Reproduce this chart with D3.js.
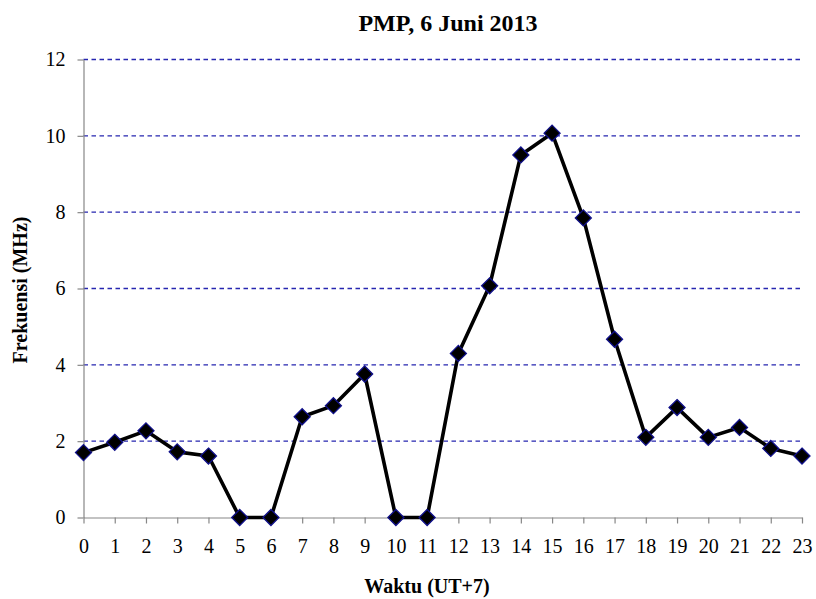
<!DOCTYPE html>
<html>
<head>
<meta charset="utf-8">
<script src="https://cdn.jsdelivr.net/npm/d3@7"></script>
<style>
  body { margin: 0; background: #fff; }
  text { font-family: "Liberation Serif", "Times New Roman", serif; fill: #000; }
</style>
</head>
<body>
<div id="chart"></div>
<script>
const hours = d3.range(0, 24);
const freq = [1.70, 1.97, 2.27, 1.72, 1.61, 0, 0, 2.64, 2.93, 3.76, 0, 0,
              4.30, 6.07, 9.50, 10.07, 7.85, 4.67, 2.10, 2.88, 2.10, 2.36, 1.81, 1.61];
const yTicks = [0, 2, 4, 6, 8, 10, 12];

const width = 816, height = 599;
const margin = { top: 59.5, right: 14, bottom: 81.5, left: 83.5 };
const serif = "'Liberation Serif', 'Times New Roman', serif";

const svg = d3.select("#chart")
    .append("svg")
        .attr("width", width)
        .attr("height", height);

const x = d3.scaleLinear().domain([0, 23]).range([margin.left, width - margin.right]);
const y = d3.scaleLinear().domain([0, 12]).range([height - margin.bottom, margin.top]);

// dashed gridlines
svg.append("g")
    .selectAll("line")
    .data(yTicks.filter((d) => d > 0))
    .enter().append("line")
        .attr("x1", x(0)).attr("x2", x(23))
        .attr("y1", (d) => y(d)).attr("y2", (d) => y(d))
        .attr("stroke", "#2626b0")
        .attr("stroke-width", 1.3)
        .attr("stroke-dasharray", "4.5,3.5");

const xAxis = svg.append("g")
    .attr("transform", `translate(0,${y(0)})`)
    .call(d3.axisBottom(x).tickValues(hours).tickFormat(d3.format("d")).tickSize(6).tickSizeOuter(0).tickPadding(15));

const yAxis = svg.append("g")
    .attr("transform", `translate(${x(0)},0)`)
    .call(d3.axisLeft(y).tickValues(yTicks).tickSize(6).tickSizeOuter(0).tickPadding(12));

[xAxis, yAxis].forEach((g) => {
    g.attr("font-family", serif);
    g.selectAll("path, line").attr("stroke", "#878787").attr("stroke-width", 1.2);
    g.selectAll("text")
        .attr("font-family", serif)
        .attr("font-size", 20)
        .attr("fill", "#000");
});

// series line
const line = d3.line()
    .x((d, i) => x(hours[i]))
    .y((d) => y(d));

svg.append("path")
    .datum(freq)
    .attr("fill", "none")
    .attr("stroke", "#000")
    .attr("stroke-width", 3.6)
    .attr("stroke-linejoin", "round")
    .attr("d", line);

const r = 8;
svg.append("g")
    .selectAll("path")
    .data(freq)
    .enter().append("path")
        .attr("transform", (d, i) => `translate(${x(hours[i])},${y(d)})`)
        .attr("d", `M0,${-r}L${r},0L0,${r}L${-r},0Z`)
        .attr("fill", "#000")
        .attr("stroke", "#10108a")
        .attr("stroke-width", 1.3);

// titles
svg.append("text")
    .attr("x", 448).attr("y", 31)
    .attr("text-anchor", "middle")
    .attr("font-family", serif)
    .style("font-size", "24px").style("font-weight", "bold")
    .text("PMP, 6 Juni 2013");

svg.append("text")
    .attr("x", 427).attr("y", 593)
    .attr("text-anchor", "middle")
    .attr("font-family", serif)
    .style("font-size", "20px").style("font-weight", "bold")
    .text("Waktu (UT+7)");

svg.append("text")
    .attr("transform", "translate(27,290) rotate(-90)")
    .attr("text-anchor", "middle")
    .attr("font-family", serif)
    .style("font-size", "20px").style("font-weight", "bold")
    .text("Frekuensi (MHz)");
</script>
</body>
</html>
